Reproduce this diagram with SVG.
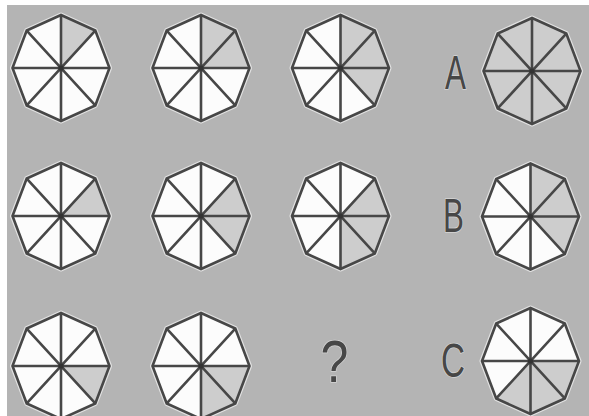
<svg xmlns="http://www.w3.org/2000/svg" xmlns:xlink="http://www.w3.org/1999/xlink" width="589" height="416" viewBox="0 0 589 416">
<style>
.bg{fill:#b4b4b4}
.halo{fill:none;stroke:#e2e2e2;stroke-width:5;stroke-linejoin:round}
.face{fill:#fcfcfc}
.sh{fill:#cdcdcd}
.ln{fill:none;stroke:#474747;stroke-width:2.6;stroke-linejoin:miter}
.dot{fill:#333}
.lbl{font-family:"Liberation Sans",Arial,sans-serif;fill:#474747;stroke:#d4d4d4;stroke-width:1.5;paint-order:stroke;text-anchor:middle}
</style>
<defs>
<g id="base">
<polygon class="halo" points="0,-53 34.29,-37.48 48.5,0 34.29,37.48 0,53 -34.29,37.48 -48.5,0 -34.29,-37.48"/>
<polygon class="face" points="0,-53 34.29,-37.48 48.5,0 34.29,37.48 0,53 -34.29,37.48 -48.5,0 -34.29,-37.48"/>
</g>
<path id="s1" class="sh" d="M0,0 L0,-53 L34.29,-37.48 Z"/>
<path id="s2" class="sh" d="M0,0 L34.29,-37.48 L48.5,0 Z"/>
<path id="s3" class="sh" d="M0,0 L48.5,0 L34.29,37.48 Z"/>
<path id="s4" class="sh" d="M0,0 L34.29,37.48 L0,53 Z"/>
<path id="s5" class="sh" d="M0,0 L0,53 L-34.29,37.48 Z"/>
<path id="s6" class="sh" d="M0,0 L-34.29,37.48 L-48.5,0 Z"/>
<path id="s7" class="sh" d="M0,0 L-48.5,0 L-34.29,-37.48 Z"/>
<path id="s8" class="sh" d="M0,0 L-34.29,-37.48 L0,-53 Z"/>
<g id="lines">
<polygon class="ln" points="0,-53 34.29,-37.48 48.5,0 34.29,37.48 0,53 -34.29,37.48 -48.5,0 -34.29,-37.48"/>
<path class="ln" d="M0,-53 L0,53 M34.29,-37.48 L-34.29,37.48 M48.5,0 L-48.5,0 M34.29,37.48 L-34.29,-37.48"/>
<circle class="dot" r="2.6"/>
</g>
</defs>
<rect width="589" height="416" fill="#ffffff"/>
<rect class="bg" x="7" y="5" width="582" height="411"/>

<g id="r1c1" transform="translate(61,68)"><use href="#base"/><use href="#s1"/><use href="#lines"/></g>
<g id="r1c2" transform="translate(201,68)"><use href="#base"/><use href="#s1"/><use href="#s2"/><use href="#lines"/></g>
<g id="r1c3" transform="translate(340.5,68)"><use href="#base"/><use href="#s1"/><use href="#s2"/><use href="#s3"/><use href="#lines"/></g>
<g id="optA" transform="translate(532,71)"><use href="#base"/><use href="#s1"/><use href="#s2"/><use href="#s3"/><use href="#s4"/><use href="#s5"/><use href="#s6"/><use href="#s7"/><use href="#s8"/><use href="#lines"/></g>

<g id="r2c1" transform="translate(61,216)"><use href="#base"/><use href="#s2"/><use href="#lines"/></g>
<g id="r2c2" transform="translate(201,216)"><use href="#base"/><use href="#s2"/><use href="#s3"/><use href="#lines"/></g>
<g id="r2c3" transform="translate(340.5,216)"><use href="#base"/><use href="#s2"/><use href="#s3"/><use href="#s4"/><use href="#lines"/></g>
<g id="optB" transform="translate(530.5,216.5)"><use href="#base"/><use href="#s1"/><use href="#s2"/><use href="#s3"/><use href="#lines"/></g>

<g id="r3c1" transform="translate(61,366)"><use href="#base"/><use href="#s3"/><use href="#lines"/></g>
<g id="r3c2" transform="translate(201,366)"><use href="#base"/><use href="#s3"/><use href="#s4"/><use href="#lines"/></g>
<g id="optC" transform="translate(530.5,361)"><use href="#base"/><use href="#s3"/><use href="#s4"/><use href="#s5"/><use href="#lines"/></g>

<g id="labels">
<text class="lbl" font-size="47.5" transform="translate(455.5,89) scale(0.66,1)">A</text>
<text class="lbl" font-size="47.5" transform="translate(453.5,231.7) scale(0.66,1)">B</text>
<text class="lbl" font-size="47.5" transform="translate(453,376.7) scale(0.7,1)">C</text>
<text class="lbl" font-size="59" transform="translate(334.5,382) scale(0.85,1)">?</text>
</g>
</svg>
